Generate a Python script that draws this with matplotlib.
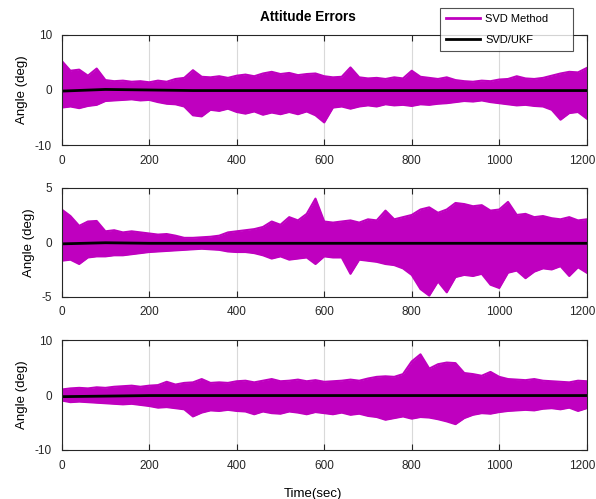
import numpy as np
import matplotlib
matplotlib.use("Agg")
import matplotlib.pyplot as plt
from matplotlib.transforms import ScaledTranslation

plt.rcParams['font.family'] = ['Liberation Sans', 'DejaVu Sans']
plt.rcParams['axes.unicode_minus'] = False

# time samples (s) of the envelope
time = np.arange(0, 1201, 20)

# SVD method error envelope, roll / pitch / yaw (deg)
svd1_hi = [5.3, 3.5, 3.7, 2.6, 3.9, 1.8, 1.6, 1.7, 1.5, 1.6, 1.4, 1.7, 1.5, 2.0, 2.2, 3.6,
           2.4, 2.3, 2.5, 2.2, 2.6, 2.8, 2.5, 3.0, 3.3, 2.9, 3.1, 2.7, 2.9, 3.0, 2.5, 2.3,
           2.4, 4.1, 2.3, 2.1, 2.2, 2.0, 2.3, 2.1, 3.5, 2.4, 2.2, 2.0, 2.3, 1.8, 1.6, 1.5,
           1.7, 1.6, 1.9, 2.0, 2.5, 2.1, 2.0, 2.2, 2.6, 3.0, 3.3, 3.2, 4.0]
svd1_lo = [-3.2, -3.0, -3.3, -2.9, -2.7, -2.0, -1.9, -1.8, -1.7, -1.9, -1.8, -2.2, -2.5,
           -2.6, -3.0, -4.6, -4.8, -3.6, -3.8, -3.4, -4.0, -4.3, -3.9, -4.5, -4.1, -4.4,
           -4.0, -4.4, -3.9, -4.6, -5.9, -3.2, -3.0, -3.4, -3.0, -2.8, -3.0, -2.6, -2.8,
           -2.7, -2.9, -2.6, -2.7, -2.5, -2.4, -2.2, -2.0, -2.1, -1.9, -2.2, -2.4, -2.6,
           -2.8, -2.7, -2.9, -3.0, -3.6, -5.4, -4.2, -4.0, -5.2]

svd2_hi = [3.0, 2.4, 1.5, 1.9, 1.95, 1.0, 1.1, 0.9, 1.0, 0.9, 0.8, 0.7, 0.75, 0.6, 0.4,
           0.4, 0.45, 0.5, 0.6, 0.9, 1.0, 1.1, 1.2, 1.4, 1.9, 1.6, 2.3, 2.0, 2.6, 4.0, 1.9,
           1.8, 1.9, 2.0, 1.8, 2.1, 2.0, 2.9, 2.1, 2.3, 2.5, 3.0, 3.2, 2.7, 3.0, 3.6, 3.5,
           3.3, 3.4, 2.9, 3.0, 3.7, 2.5, 2.6, 2.3, 2.4, 2.2, 2.1, 2.3, 2.0, 2.1]
svd2_lo = [-1.7, -1.6, -2.0, -1.4, -1.3, -1.3, -1.2, -1.2, -1.1, -1.0, -0.9, -0.85, -0.8,
           -0.75, -0.7, -0.65, -0.6, -0.65, -0.7, -0.85, -0.9, -0.9, -1.0, -1.2, -1.5,
           -1.3, -1.6, -1.5, -1.4, -2.0, -1.3, -1.4, -1.4, -2.9, -1.6, -1.7, -1.8, -2.0,
           -2.1, -2.4, -3.0, -4.3, -4.9, -3.6, -4.6, -3.2, -3.0, -3.1, -2.9, -3.9, -4.2,
           -2.8, -2.6, -3.3, -2.7, -2.4, -2.5, -2.2, -3.1, -2.3, -2.8]

svd3_hi = [1.0, 1.2, 1.3, 1.2, 1.4, 1.3, 1.5, 1.6, 1.7, 1.5, 1.7, 1.8, 2.4, 1.9, 2.2, 2.3,
           2.9, 2.2, 2.3, 2.2, 2.5, 2.6, 2.3, 2.6, 2.9, 2.5, 2.6, 2.8, 2.5, 2.7, 2.4, 2.5,
           2.6, 2.8, 2.6, 3.0, 3.3, 3.4, 3.3, 3.8, 6.1, 7.4, 4.8, 5.6, 5.9, 5.8, 4.0, 3.8,
           3.5, 4.2, 3.3, 2.9, 2.8, 2.7, 2.9, 2.6, 2.5, 2.4, 2.3, 2.6, 2.5]
svd3_lo = [-1.0, -1.3, -1.2, -1.3, -1.4, -1.5, -1.6, -1.7, -1.6, -1.8, -2.0, -2.3, -2.2,
           -2.4, -2.6, -3.9, -3.2, -2.8, -2.9, -2.7, -2.9, -3.0, -3.5, -3.0, -3.3, -3.4,
           -3.0, -3.2, -3.5, -3.1, -3.3, -3.5, -3.2, -3.6, -3.4, -3.8, -4.0, -4.5, -4.2,
           -3.9, -4.3, -4.0, -4.1, -4.4, -4.8, -5.3, -4.2, -3.6, -3.3, -3.4, -3.1, -2.9,
           -2.8, -2.7, -2.8, -2.5, -2.4, -2.6, -2.3, -2.9, -2.4]

# SVD/UKF estimate error (deg), every 100 s
ukf_time = np.arange(0, 1201, 100)
ukf1 = [-0.2, 0.1, 0.0, -0.1, -0.1, -0.1, -0.1, -0.1, -0.1, -0.1, -0.1, -0.1, -0.1]
ukf2 = [-0.15, -0.05, -0.1, -0.1, -0.1, -0.1, -0.1, -0.1, -0.1, -0.1, -0.1, -0.1, -0.1]
ukf3 = [-0.3, -0.2, -0.1, -0.1, -0.1, -0.1, -0.1, -0.1, -0.1, -0.1, -0.1, -0.1, -0.1]

ylims = [(-10, 10), (-5, 5), (-10, 10)]
yticks = [[-10, 0, 10], [-5, 0, 5], [-10, 0, 10]]
xticks = [0, 200, 400, 600, 800, 1000, 1200]

mag = '#bf00bf'
fig = plt.figure(figsize=(5.96, 4.99), dpi=100)
boxes = [[0.1035, 0.7094, 0.881, 0.2205],
         [0.1035, 0.4054, 0.881, 0.2184],
         [0.1035, 0.0982, 0.881, 0.2204]]
his = [svd1_hi, svd2_hi, svd3_hi]
los = [svd1_lo, svd2_lo, svd3_lo]
ukfs = [ukf1, ukf2, ukf3]

for k in range(3):
    ax = fig.add_axes(boxes[k])
    ax.fill_between(time, los[k], his[k], color=mag, lw=0)
    ax.plot(time, his[k], color=mag, lw=1.5)
    ax.plot(time, los[k], color=mag, lw=1.5)
    ax.plot(ukf_time, ukfs[k], color='black', lw=2)
    ax.set_xlim(0, 1200)
    ax.set_ylim(*ylims[k])
    ax.set_xticks(xticks)
    ax.set_yticks(yticks[k])
    ax.xaxis.grid(True, color='#d9d9d9', lw=0.8)
    ax.set_axisbelow(True)
    ax.tick_params(direction='in', top=True, right=True, labelsize=8.5,
                   length=4, pad=7, colors='#262626')
    for s in ax.spines.values():
        s.set_color('#262626')
    # last x label sits a bit left in the original so it stays inside the figure
    lab = ax.get_xticklabels()[-1]
    lab.set_transform(lab.get_transform() + ScaledTranslation(-0.05, 0, fig.dpi_scale_trans))
    ax.set_ylabel('Angle (deg)', fontsize=9.5, labelpad=5)
    if k == 0:
        ax.set_title('Attitude Errors', fontsize=9.8, fontweight='bold', pad=10, x=0.468)
    if k == 2:
        ax.set_xlabel('Time(sec)', fontsize=9.5, labelpad=12, x=0.479)

h1, = plt.plot([], [], color=mag, lw=2, label='SVD Method')
h2, = plt.plot([], [], color='black', lw=2, label='SVD/UKF')
leg = fig.legend(handles=[h1, h2], loc='upper left', mode='expand',
                 bbox_to_anchor=(440 / 596, 1 - 53 / 499, 133 / 596, 45 / 499),
                 fontsize=8, frameon=True, fancybox=False, edgecolor='#262626',
                 handlelength=3.1, handletextpad=0.45, borderpad=0.5,
                 labelspacing=1.05, borderaxespad=0)
leg.get_frame().set_linewidth(0.8)

fig.savefig('out.png', dpi=100)
